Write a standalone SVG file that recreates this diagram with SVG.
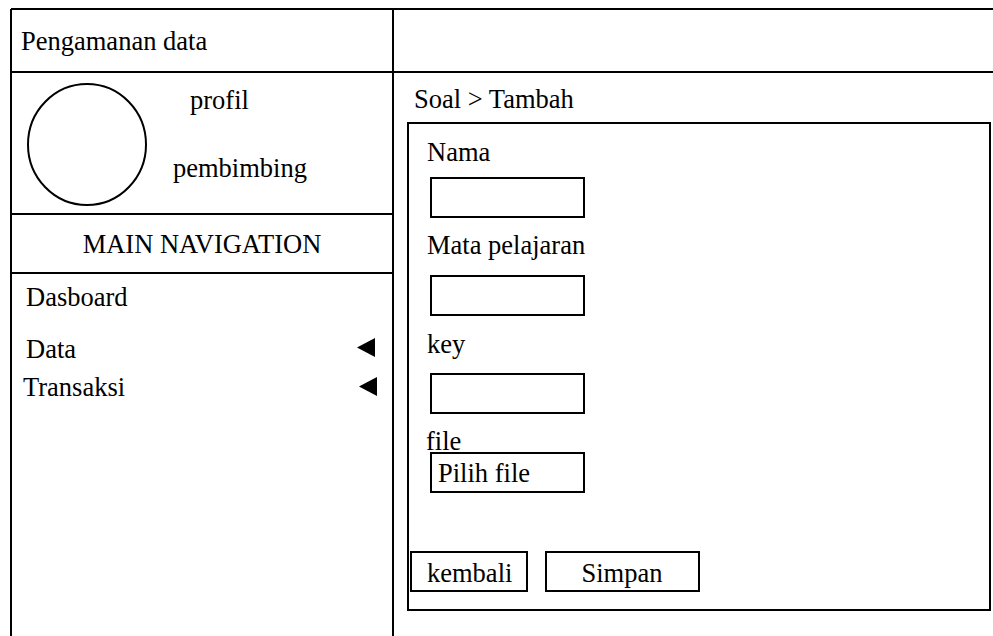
<svg xmlns="http://www.w3.org/2000/svg" width="993" height="636" viewBox="0 0 993 636">
  <style>
    .frame { fill: none; stroke: #000; stroke-width: 2; }
    .box { fill: #fff; stroke: #000; stroke-width: 2; }
    .t { font-family: "Liberation Serif", "Times New Roman", serif; font-size: 26.5px; fill: #000; }
    .mid { text-anchor: middle; }
    .arrow { fill: #000; }
  </style>
  <rect x="0" y="0" width="993" height="636" fill="#fff"/>

  <!-- outer page frame and panel dividers -->
  <g id="layout">
    <line class="frame" x1="11" y1="9" x2="993" y2="9"/>
    <line class="frame" x1="11" y1="9" x2="11" y2="636"/>
    <line class="frame" x1="393" y1="9" x2="393" y2="636"/>
    <line class="frame" x1="11" y1="72" x2="993" y2="72"/>
    <line class="frame" x1="11" y1="214" x2="393" y2="214"/>
    <line class="frame" x1="11" y1="273" x2="393" y2="273"/>
  </g>

  <g id="header-title">
    <text class="t" x="21" y="50">Pengamanan data</text>
  </g>

  <g id="profile">
    <ellipse class="frame" cx="87" cy="144.5" rx="59" ry="60.5"/>
    <text class="t" x="190" y="109">profil</text>
    <text class="t" x="173" y="177">pembimbing</text>
  </g>

  <g id="main-navigation">
    <text class="t mid" x="202" y="253">MAIN NAVIGATION</text>
  </g>

  <g id="menu">
    <text class="t" x="26" y="306">Dasboard</text>
    <text class="t" x="26" y="358">Data</text>
    <polygon class="arrow" points="357,347.5 375,338 375,357"/>
    <text class="t" x="23" y="396">Transaksi</text>
    <polygon class="arrow" points="359,386.5 377,377 377,396"/>
  </g>

  <g id="breadcrumb">
    <text class="t" x="414" y="108">Soal &gt; Tambah</text>
  </g>

  <g id="form">
    <rect class="box" x="408" y="123" width="582" height="487"/>
    <text class="t" x="427" y="161">Nama</text>
    <rect class="box" x="431" y="178" width="153" height="39"/>
    <text class="t" x="427" y="254">Mata pelajaran</text>
    <rect class="box" x="431" y="276" width="153" height="39"/>
    <text class="t" x="427" y="353">key</text>
    <rect class="box" x="431" y="374" width="153" height="39"/>
    <text class="t" x="426" y="450">file</text>
    <g id="btn-pilih-file">
      <rect class="box" x="431" y="453" width="153" height="39"/>
      <text class="t" x="438" y="482">Pilih file</text>
    </g>
    <g id="btn-kembali">
      <rect class="box" x="411" y="552" width="116" height="39"/>
      <text class="t" x="427" y="582">kembali</text>
    </g>
    <g id="btn-simpan">
      <rect class="box" x="546" y="552" width="153" height="39"/>
      <text class="t mid" x="622" y="582">Simpan</text>
    </g>
  </g>
</svg>
